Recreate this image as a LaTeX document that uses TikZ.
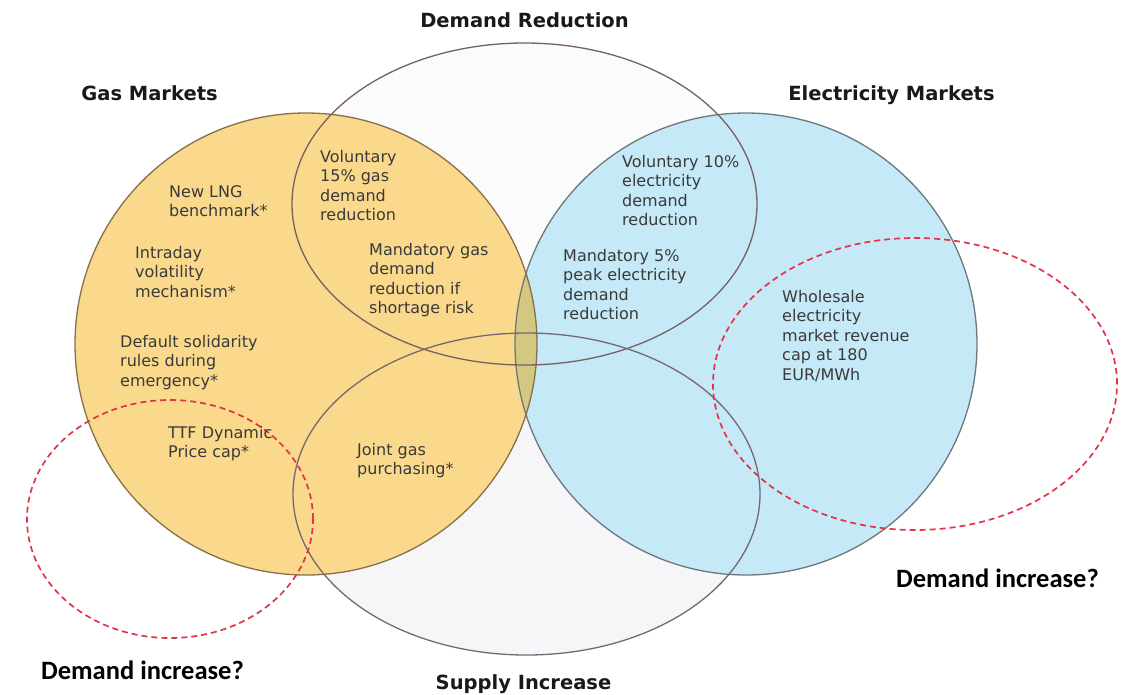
\documentclass[tikz,border=0pt]{standalone}
\usepackage{fontspec}
\setmainfont{DejaVu Sans}
\newfontfamily\calibfont{Carlito}
\definecolor{gasfill}{RGB}{250,217,140}
\definecolor{elecfill}{RGB}{198,233,247}
\definecolor{lensfill}{RGB}{210,200,130}
\definecolor{drfill}{RGB}{251,251,251}
\definecolor{supfill}{RGB}{246,246,249}
\definecolor{gasline}{RGB}{135,112,70}
\definecolor{elecline}{RGB}{110,118,126}
\definecolor{drline}{RGB}{118,96,98}
\definecolor{supline}{RGB}{118,104,114}
\definecolor{reddash}{RGB}{226,52,72}
\definecolor{bodytext}{RGB}{58,58,58}
\definecolor{titletext}{RGB}{25,25,25}
\begin{document}
\begin{tikzpicture}[x=1pt,y=-1pt,
  outline/.style={line width=1.3pt},
  reddashed/.style={draw=reddash,line width=1.7pt,dash pattern=on 6pt off 4pt},
  body/.style={anchor=north west,inner sep=0pt,align=left,text=bodytext,
    font=\fontsize{16}{19.5}\selectfont},
  title/.style={anchor=base,inner sep=0pt,text=titletext,
    font=\fontsize{19.5}{23}\selectfont\bfseries},
  question/.style={anchor=base,inner sep=0pt,text=black,
    font=\fontsize{26.5}{31}\calibfont\bfseries}]
\useasboundingbox (0,0) rectangle (1123,694);
\fill[white] (0,0) rectangle (1123,694);
% fills
\fill[drfill] (524.5,204) ellipse [x radius=232.5pt, y radius=161pt];
\fill[supfill] (526.5,494) ellipse [x radius=233.5pt, y radius=161pt];
\fill[gasfill] (306,344) circle [radius=231pt];
\fill[elecfill] (746,344) circle [radius=231pt];
\begin{scope}
  \clip (306,344) circle [radius=231pt];
  \fill[lensfill] (746,344) circle [radius=231pt];
\end{scope}
% outlines
\draw[outline,draw=gasline] (306,344) circle [radius=231pt];
\draw[outline,draw=elecline] (746,344) circle [radius=231pt];
\draw[outline,draw=drline] (524.5,204) ellipse [x radius=232.5pt, y radius=161pt];
\draw[outline,draw=supline] (526.5,494) ellipse [x radius=233.5pt, y radius=161pt];
% red dashed
\draw[reddashed] (170,519) ellipse [x radius=143pt, y radius=119pt];
\draw[reddashed] (915,384) ellipse [x radius=202pt, y radius=146pt];
% titles
\node[title] (tdr) at (524.5,27) {Demand Reduction};
\node[title] (tgas) at (149.5,100) {Gas Markets};
\node[title] (tel) at (891.5,100) {Electricity Markets};
\node[title] (tsup) at (523.5,689) {Supply Increase};
\node[question] (qleft) at (142.5,679) {Demand increase?};
\node[question] (qright) at (997.5,587) {Demand increase?};
% body texts
\node[body] (gas1) at (169,185) {New LNG\\benchmark*};
\node[body] (gas2) at (135,246) {Intraday\\volatility\\mechanism*};
\node[body] (gas3) at (120,335) {Default solidarity\\rules during\\emergency*};
\node[body] (gas4) at (168,426) {TTF Dynamic\\Price cap*};
\node[body] (dr1) at (320,150) {Voluntary\\15\% gas\\demand\\reduction};
\node[body] (dr2) at (369,243) {Mandatory gas\\demand\\reduction if\\shortage risk};
\node[body] (sup1) at (357,443) {Joint gas\\purchasing*};
\node[body] (el1) at (622,155) {Voluntary 10\%\\electricity\\demand\\reduction};
\node[body] (el2) at (563,249) {Mandatory 5\%\\peak electricity\\demand\\reduction};
\node[body] (el3) at (782,290) {Wholesale\\electricity\\market revenue\\cap at 180\\EUR/MWh};
\end{tikzpicture}
\end{document}
